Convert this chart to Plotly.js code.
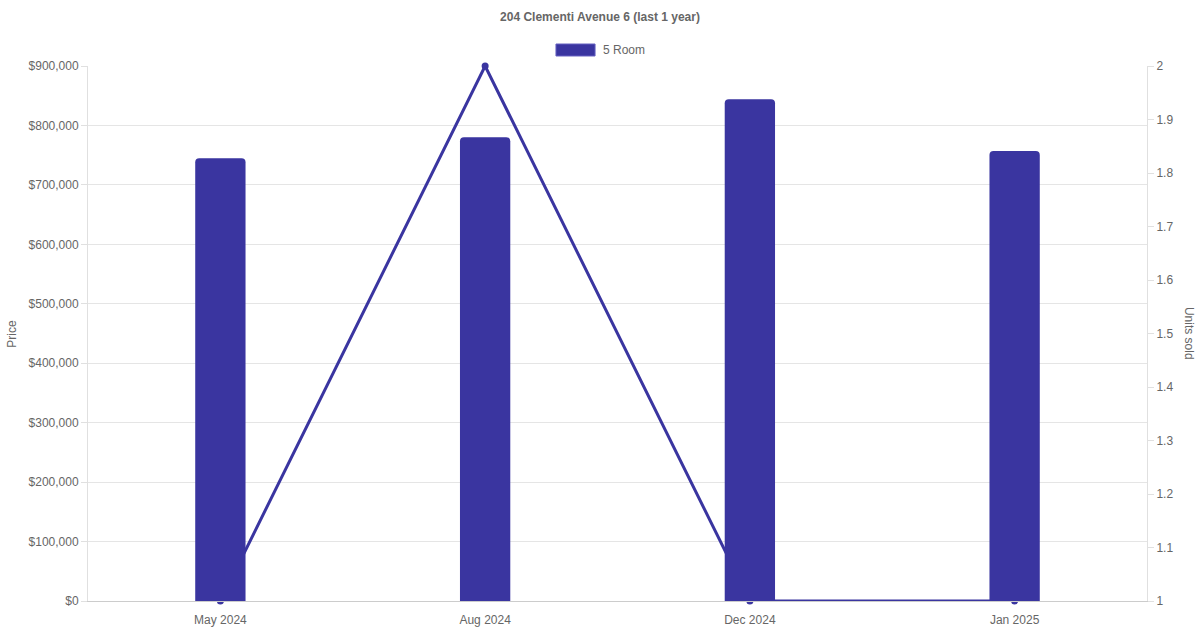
<!DOCTYPE html>
<html>
<head>
<meta charset="utf-8">
<script src="https://cdn.plot.ly/plotly-3.0.1.min.js"></script>
<style>html,body{margin:0;padding:0;background:#fff;}#chart{width:1200px;height:630px;}</style>
</head>
<body>
<div id="chart"></div>
<script>
const categories = ["May 2024", "Aug 2024", "Dec 2024", "Jan 2025"];
const prices = [745000, 780000, 844000, 757000];
const unitsSold = [1, 2, 1, 1];
const seriesName = "5 Room";
const priceTicks = [0, 100000, 200000, 300000, 400000, 500000, 600000, 700000, 800000, 900000];
const unitTicks = [1, 1.1, 1.2, 1.3, 1.4, 1.5, 1.6, 1.7, 1.8, 1.9, 2];

const color = "#3a35a0";
const font = "Liberation Sans, Arial, Helvetica, sans-serif";

const data = [
  {
    type: "scatter", mode: "lines+markers", x: categories, y: unitsSold,
    yaxis: "y", line: {color: color, width: 3}, marker: {color: color, size: 7},
    showlegend: false, cliponaxis: false, hoverinfo: "skip"
  },
  {
    type: "bar", x: categories, y: prices, yaxis: "y2", name: seriesName,
    width: 0.19, marker: {color: color, line: {width: 0}}, showlegend: false
  }
];

const layout = {
  width: 1200, height: 630,
  margin: {l: 88, r: 53, t: 66, b: 29},
  paper_bgcolor: "#fff", plot_bgcolor: "#fff",
  font: {family: font, size: 12, color: "#666"},
  title: {text: "<b>204 Clementi Avenue 6 (last 1 year)</b>", x: 0.5, xanchor: "center", y: 0.973, yanchor: "middle", font: {size: 12, color: "#666", family: font}},
  showlegend: false,
  barcornerradius: 4,
  xaxis: {
    type: "category", range: [-0.5, 3.5], showgrid: false, zeroline: false,
    showline: true, linecolor: "#cccccc", linewidth: 1, ticks: "", ticklabelstandoff: 8,
    tickfont: {size: 12, color: "#666"}
  },
  yaxis: {
    side: "right", range: [1, 2], tickvals: unitTicks, ticktext: unitTicks.map(String),
    showgrid: false, zeroline: false, showline: true, linecolor: "#e0e0e0",
    ticks: "outside", ticklen: 6, tickcolor: "#e0e0e0", tickfont: {size: 12, color: "#666"}
  },
  yaxis2: {
    overlaying: "y", side: "left", range: [0, 900000], tickvals: priceTicks,
    ticktext: priceTicks.map(v => "$" + v.toLocaleString("en-US")),
    showgrid: true, gridcolor: "#e5e5e5", zeroline: false, showline: true, linecolor: "#e0e0e0",
    ticks: "outside", ticklen: 6, tickcolor: "#e0e0e0", tickfont: {size: 12, color: "#666"}
  },
  shapes: [
    {type: "rect", xref: "paper", yref: "paper", x0: 0.4419, x1: 0.4788, y0: 1.0187, y1: 1.0411,
     fillcolor: color, line: {color: "#6560c0", width: 1}}
  ],
  annotations: [
    {text: seriesName, xref: "paper", yref: "paper", x: 0.4844, y: 1.03, xanchor: "left", yanchor: "middle", showarrow: false, font: {size: 12, color: "#666"}},
    {text: "Price", xref: "paper", yref: "paper", x: -0.0725, y: 0.5, xanchor: "center", yanchor: "middle", textangle: -90, showarrow: false, font: {size: 12, color: "#666"}},
    {text: "Units sold", xref: "paper", yref: "paper", x: 1.0402, y: 0.5, xanchor: "center", yanchor: "middle", textangle: 90, showarrow: false, font: {size: 12, color: "#666"}}
  ]
};

Plotly.newPlot("chart", data, layout, {displayModeBar: false, staticPlot: true});
</script>
</body>
</html>
